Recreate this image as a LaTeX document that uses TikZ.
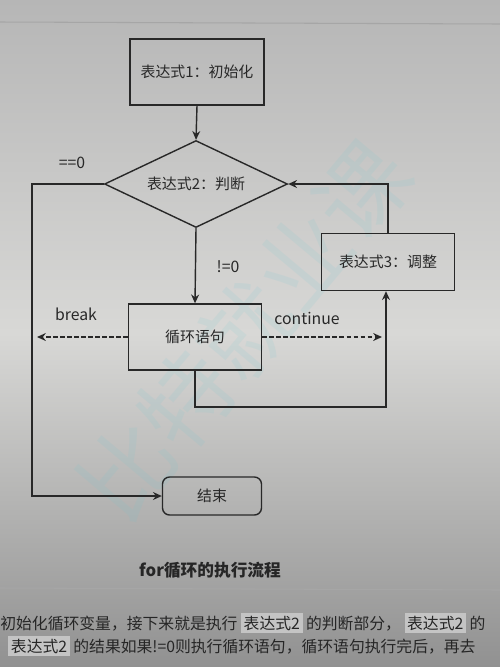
\documentclass[tikz,border=0pt]{standalone}
\usepackage{fontspec}
\setmainfont{Noto Sans CJK SC}
\usetikzlibrary{shapes.geometric,arrows.meta,positioning}
\definecolor{bgtop}{RGB}{182,182,182}
\definecolor{bgmid}{RGB}{216,216,214}
\definecolor{bgbot}{RGB}{145,145,145}
\definecolor{ink}{RGB}{40,40,40}
\definecolor{codebg}{RGB}{196,196,196}
\definecolor{wm}{RGB}{110,200,210}
\newcommand{\codehl}[1]{{\setlength{\fboxsep}{1.5pt}\colorbox{codebg}{#1}}}
\begin{document}
\begin{tikzpicture}[x=0.02cm,y=-0.02cm,
  line/.style={draw=ink,line width=0.8pt},
  arr/.style={line,-{Stealth[length=5pt,width=4.5pt]}},
  darr/.style={arr,dashed,dash pattern=on 2.5pt off 1.5pt},
  boxnode/.style={line,rectangle,inner sep=0pt,font=\fontsize{8.5}{10}\selectfont,text=ink},
  decision/.style={line,diamond,shape aspect=2.1,inner sep=0pt,minimum width=3.66cm,minimum height=1.74cm,font=\fontsize{8.5}{10}\selectfont,text=ink},
  lbl/.style={font=\fontsize{9}{11}\selectfont,text=ink},
  bodytext/.style={anchor=base west,font=\fontsize{9}{11}\selectfont,text=black!85,inner sep=0pt}]
\useasboundingbox (0,0) rectangle (500,667);
\clip (0,0) rectangle (500,667);
\shade[top color=bgtop,bottom color=bgbot,middle color=bgmid] (0,0) rectangle (500,667);
\draw[gray!70,line width=0.6pt] (0,22) -- (500,24);
\draw[gray!70,line width=0.6pt] (0,588) -- (500,590);
% watermark
\node[rotate=50,text=wm,opacity=0.12,font=\fontsize{52}{60}\selectfont] (wmk) at (245,330) {比特就业课};
% nodes
\node[boxnode,minimum width=2.68cm,minimum height=1.32cm] (b1) at (197,72) {表达式1：初始化};
\node[decision] (d) at (196,184) {表达式2：判断};
\node[boxnode,minimum width=2.66cm,minimum height=1.14cm] (b3) at (388,262) {表达式3：调整};
\node[boxnode,minimum width=2.66cm,minimum height=1.32cm] (b2) at (195,337) {循环语句};
\node[boxnode,rounded corners=4pt,minimum width=1.98cm,minimum height=0.76cm] (e) at (212,496) {结束};
% helper coordinates
\coordinate (c1) at (32,184);
\coordinate (brk) at (37,337);
\coordinate (cnt) at (382,337);
\coordinate (c4) at (386,407);
% connectors
\draw[arr] (b1.south) -- (d.north);
\draw[arr] (d.west) -- (c1) |- (e.west);
\draw[arr] (d.south) -- (b2.north);
\draw[darr] (b2.west) -- (brk);
\draw[darr] (b2.east) -- (cnt);
\draw[arr] (b2.south) |- (c4) -- (c4 |- b3.south);
\draw[arr] (b3.north) |- (d.east);
% labels
\node[lbl] (l1) at (72,163) {==0};
\node[lbl] (l2) at (228,267) {!=0};
\node[lbl] (l3) at (76,314) {break};
\node[lbl] (l4) at (307,318) {continue};
% caption and body
\node[font=\fontsize{9.5}{11}\selectfont\bfseries,text=black!85] (cap) at (210,570) {for循环的执行流程};
\node[bodytext] (t1) at (0,629) {初始化循环变量，接下来就是执行 \codehl{表达式2} 的判断部分， \codehl{表达式2} 的};
\node[bodytext] (t2) at (8,652) {\codehl{表达式2} 的结果如果!=0则执行循环语句，循环语句执行完后，再去};
\end{tikzpicture}
\end{document}
